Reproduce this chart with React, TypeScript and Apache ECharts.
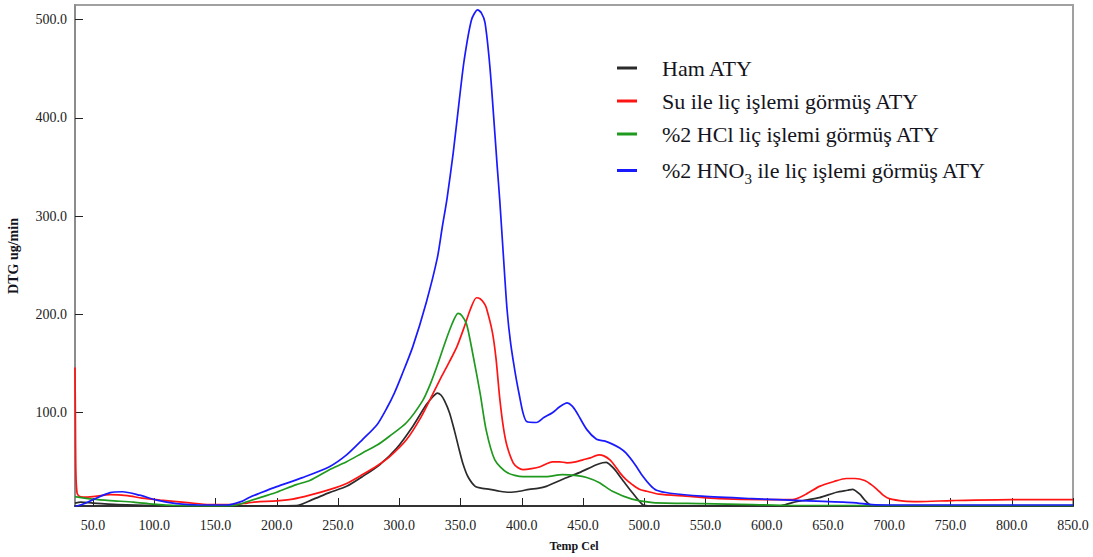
import React, { useEffect, useRef } from "react";
import * as echarts from "echarts";

// Temperature (Cel) and DTG (ug/min) values
const hamT = [35.3, 40, 50, 70, 100, 150, 200, 216, 229, 243, 257, 270, 284, 298, 311, 322, 328, 331, 334, 337, 341, 345, 349, 352, 356, 362, 368, 374, 382, 390, 398, 406, 413, 420, 433, 447, 461, 466, 469, 472, 476, 482, 490, 499, 505, 610, 621, 632, 643, 657, 666, 670, 676, 680, 684, 690, 850];
const hamV = [8, 9, 8, 6.5, 5.5, 5, 5.2, 5.4, 11.5, 18.6, 25, 35, 47, 64, 86, 108, 117, 120, 118, 112, 100, 82, 62, 48, 35, 25, 23, 22, 20, 19, 20, 22, 23, 25, 32, 39, 47, 49, 49.5, 47, 42, 32, 19, 6, 5, 5, 8.5, 11, 13.5, 19, 21, 22, 17, 11, 6.5, 5, 5];

const suT = [35.3, 35.6, 36, 37, 39, 42, 50, 64, 78, 90, 105, 127, 145, 164, 176, 186, 197, 213, 227, 243, 257, 270, 282, 292, 306, 318, 327, 335, 341, 347, 353, 358, 363, 366, 369, 371, 376, 379, 382, 385, 388, 393, 397, 401, 408, 415, 425, 431, 437, 444, 450, 456, 463, 467, 472, 476, 480, 485, 490, 496, 502, 512, 534, 561, 600, 621, 632, 643, 655, 665, 672, 680, 685, 690, 695, 700, 712, 724, 751, 800, 850];
const suV = [146, 100, 40, 18, 14.6, 14, 14.6, 16.6, 15.6, 13, 11, 8.5, 6.4, 6.4, 8, 9.5, 10, 12, 16, 21.7, 28, 37, 46, 55, 72.6, 96, 118, 138, 152, 167, 187, 205, 217, 216, 212, 207, 182, 155, 115, 85, 66, 49, 44, 42, 43, 45, 50, 50, 49, 50, 52, 54, 57, 56, 52, 46, 39, 32, 27, 22, 20, 17, 15, 12.5, 11.5, 11.5, 17, 25, 30, 33, 33, 31, 27, 22, 16, 12.5, 10, 9.5, 10.5, 11.5, 11.5];

const hclT = [35.3, 50, 64, 83, 99, 118, 140, 164, 175, 189, 200, 216, 227, 243, 257, 270, 282, 292, 306, 319, 325, 331, 337, 343, 348, 351, 355, 360, 366, 371, 378, 388, 401, 420, 433, 445, 453, 463, 474, 490, 507, 547, 588, 620, 850];
const hclV = [14.6, 12, 10.5, 9, 7, 5.5, 5.2, 5.4, 9, 14.6, 19, 26.8, 31, 42, 50, 59, 67, 76, 90, 112, 128, 148, 170, 190, 201, 199, 190, 160, 120, 82, 52, 39, 35, 35, 37, 36, 34, 29, 20, 12, 8.5, 7.5, 6.4, 5.5, 5.3];

const hno3T = [35.3, 42, 50, 64, 74, 88, 102, 118, 137, 159, 172, 178, 186, 200, 221, 243, 257, 270, 282, 290, 296, 302, 311, 322, 331, 335, 339, 344, 349, 353, 359, 364, 367, 370, 374, 378, 380, 382, 385, 388, 391, 395, 398, 401, 404, 412, 418, 425, 431, 437, 441, 445, 453, 461, 468, 474, 480, 485, 492, 499, 505, 510, 521, 547, 588, 629, 670, 686, 700, 850];
const hno3V = [4.5, 7, 11.5, 18.6, 19.5, 16, 11, 7.5, 6, 6, 10, 14, 18, 24.7, 33.9, 45, 57, 72.6, 88, 105, 120, 138, 167, 212, 257, 288, 318, 364, 418, 459, 500, 510, 507, 497, 452, 385, 350, 317, 260, 205, 170, 138, 118, 100, 91, 90, 95, 100, 106, 110, 107, 100, 83, 73, 71, 68, 64, 59, 48, 35, 26, 21, 18, 15, 12.5, 10.5, 8.5, 6.4, 6, 6];

const yTicks = [100, 200, 300, 400, 500];
const xTicks = [50, 100, 150, 200, 250, 300, 350, 400, 450, 500, 550, 600, 650, 700, 750, 800, 850];

const seriesNames = [
  "Ham ATY",
  "Su ile liç işlemi görmüş ATY",
  "%2 HCl liç işlemi görmüş ATY",
  "%2 HNO3 ile liç işlemi görmüş ATY",
];
const seriesColors = ["#2b2b2b", "#ff1414", "#1f9a1f", "#1a1aff"];

const zip = (t: number[], v: number[]) => t.map((x, i) => [x, v[i]]);

const FONT = "Liberation Serif";
const TXT = "#141420";

export default function App() {
  const ref = useRef<HTMLDivElement>(null);
  useEffect(() => {
    if (!ref.current) return;
    const chart = echarts.init(ref.current, null, { renderer: "svg" });
    const data = [zip(hamT, hamV), zip(suT, suV), zip(hclT, hclV), zip(hno3T, hno3V)];
    chart.setOption({
      animation: false,
      backgroundColor: "#ffffff",
      grid: {
        left: 75,
        right: 20,
        top: 5,
        bottom: 51,
        show: true,
        borderColor: "#a0a0a0",
        borderWidth: 2,
      },
      legend: {
        orient: "vertical",
        left: 612,
        top: 51,
        itemWidth: 20,
        itemHeight: 3,
        itemGap: 9,
        icon: "rect",
        data: seriesNames,
        textStyle: {
          fontFamily: FONT,
          fontSize: 22,
          color: TXT,
          lineHeight: 24,
          padding: [0, 0, 0, 20],
          rich: {
            sub: { fontFamily: FONT, fontSize: 15, color: TXT, lineHeight: 18, padding: [16, 0, 0, 0] },
            n: { fontFamily: FONT, fontSize: 22, color: TXT, lineHeight: 24 },
          },
        },
        formatter: (name: string) =>
          name.indexOf("HNO3") >= 0 ? "{n|%2 HNO}{sub|3}{n| ile liç işlemi görmüş ATY}" : name,
      },
      xAxis: {
        type: "value",
        min: 35.3,
        max: 850,
        name: "Temp Cel",
        nameLocation: "middle",
        nameGap: 34,
        nameTextStyle: { fontFamily: FONT, fontSize: 12, fontWeight: "bold", color: TXT },
        axisLine: { show: true, onZero: false, lineStyle: { color: "#333", width: 2 } },
        axisTick: { show: true, inside: true, length: 8, lineStyle: { color: "#222" }, customValues: xTicks },
        axisLabel: {
          fontFamily: FONT,
          fontSize: 14,
          color: "#222",
          margin: 12,
          customValues: xTicks,
          formatter: (v: number) => v.toFixed(1),
        },
        splitLine: { show: false },
      },
      yAxis: {
        type: "value",
        min: 5,
        max: 515,
        axisLine: { show: true, onZero: false, lineStyle: { color: "#8c8c8c", width: 2 } },
        axisTick: { show: true, inside: true, length: 8, lineStyle: { color: "#222" }, customValues: yTicks },
        axisLabel: {
          fontFamily: FONT,
          fontSize: 14,
          color: "#222",
          margin: 8,
          customValues: yTicks,
          formatter: (v: number) => v.toFixed(1),
        },
        splitLine: { show: false },
      },
      graphic: [
        {
          type: "text",
          x: 13,
          y: 256,
          rotation: Math.PI / 2,
          style: {
            text: "DTG ug/min",
            fontFamily: FONT,
            fontSize: 14,
            fontWeight: "bold",
            fill: TXT,
            align: "center",
            verticalAlign: "middle",
          },
        },
      ],
      series: seriesNames.map((name, i) => ({
        name,
        type: "line",
        data: data[i],
        showSymbol: false,
        smooth: 0.25,
        clip: true,
        color: seriesColors[i],
        lineStyle: { width: 1.7, color: seriesColors[i] },
        z: 3 + i,
      })),
    });
    return () => chart.dispose();
  }, []);
  return (
    <div
      ref={ref}
      style={{ position: "absolute", left: 0, top: 0, width: 1093, height: 557 }}
    />
  );
}
